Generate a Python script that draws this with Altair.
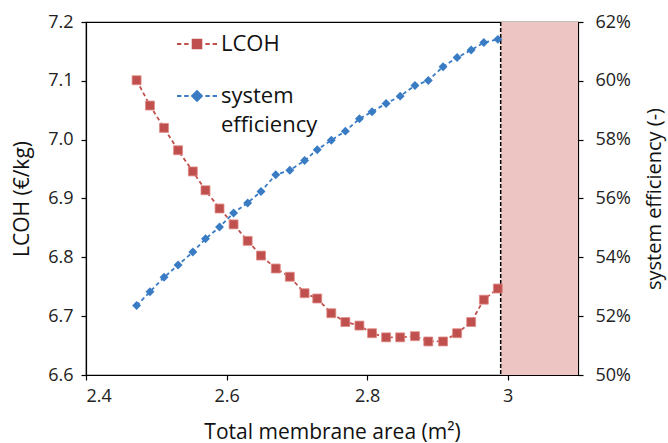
import altair as alt
import pandas as pd

# Total membrane area (m2)
area = [2.472, 2.491, 2.511, 2.531, 2.552, 2.570, 2.590, 2.610, 2.630, 2.649,
        2.670, 2.690, 2.711, 2.729, 2.749, 2.769, 2.789, 2.807, 2.827, 2.847,
        2.868, 2.887, 2.908, 2.928, 2.948, 2.966, 2.986]
# LCOH (EUR/kg)
lcoh = [7.101, 7.058, 7.020, 6.982, 6.946, 6.914, 6.883, 6.856, 6.828, 6.803,
        6.781, 6.767, 6.739, 6.730, 6.705, 6.690, 6.684, 6.671, 6.664, 6.664,
        6.666, 6.657, 6.657, 6.671, 6.690, 6.728, 6.747]
# system efficiency (%)
eff_pct = [52.36, 52.83, 53.32, 53.74, 54.18, 54.63, 55.03, 55.51, 55.85, 56.24,
           56.81, 56.96, 57.29, 57.66, 57.98, 58.29, 58.71, 58.95, 59.23, 59.48,
           59.84, 60.01, 60.48, 60.79, 61.05, 61.30, 61.41]
series = ["LCOH", "system efficiency"]
limit_start = [2.99]
limit_end = [3.1]

RED = "#C0504D"
BLUE = "#3A7CC4"
FONT = "Open Sans"

df = pd.DataFrame({"area": area, "LCOH": lcoh,
                   "system efficiency": [v / 100 for v in eff_pct]})
zone = pd.DataFrame({"x": limit_start, "x2": limit_end})

x_enc = alt.X("area:Q", scale=alt.Scale(domain=[2.4, 3.1], nice=False, zero=False),
              axis=alt.Axis(values=[2.4, 2.6, 2.8, 3.0], format="~g",
                            title="Total membrane area (m²)", grid=False,
                            labelPadding=7, titlePadding=16, titleFontSize=21))

y_left_scale = alt.Scale(domain=[6.6, 7.2], nice=False, zero=False)
y_left_axis = alt.Axis(values=[6.6, 6.7, 6.8, 6.9, 7.0, 7.1, 7.2], format=".1f",
                       title="LCOH (€/kg)", grid=False, labelPadding=8, titlePadding=15,
                       titleFontSize=21)

shade = alt.Chart(zone).mark_rect(color="#EDC5C3", opacity=1).encode(
    x="x:Q", x2="x2:Q")
limit = alt.Chart(zone).mark_rule(color="black", strokeDash=[4, 2], strokeWidth=1.5).encode(
    x="x:Q")

base = alt.Chart(df)

lcoh_line = base.mark_line(color=RED, strokeDash=[4, 3], strokeWidth=1.8).encode(
    x=x_enc, y=alt.Y("LCOH:Q", scale=y_left_scale, axis=y_left_axis))
lcoh_pts = base.mark_point(shape="square", filled=True, color=RED, size=80, opacity=1,
                           stroke="#E08A86", strokeWidth=0.8).encode(
    x="area:Q", y="LCOH:Q")

sq = "M-1,0H-0.78M-0.64,0H-0.42M-0.22,-0.22H0.22V0.22H-0.22ZM0.42,0H0.64M0.78,0H1"
dm = "M-1,0H-0.78M-0.64,0H-0.42M-0.25,0L0,-0.25L0.25,0L0,0.25ZM0.42,0H0.64M0.78,0H1"

legend_layer = base.transform_fold(series, as_=["series", "v"]).mark_point(
    opacity=0, filled=True, strokeWidth=1.8).encode(
    x="area:Q", y="LCOH:Q",
    fill=alt.Fill("series:N", scale=alt.Scale(domain=series, range=[RED, BLUE]),
                  legend=alt.Legend(title=None)),
    stroke=alt.Stroke("series:N", scale=alt.Scale(domain=series, range=[RED, BLUE]),
                      legend=alt.Legend(title=None)),
    shape=alt.Shape("series:N", scale=alt.Scale(domain=series, range=[sq, dm]),
                    legend=alt.Legend(
                        title=None, orient="none", legendX=90, legendY=1,
                        symbolSize=1600, symbolOpacity=1, symbolStrokeWidth=1.8,
                        labelFontSize=22, labelFont=FONT, labelColor="#111",
                        labelOffset=3, rowPadding=20,
                        labelLimit=300,
                        labelExpr="datum.label == 'system efficiency' ? ['system', 'efficiency'] : datum.label")),
)

left = alt.layer(shade, limit, lcoh_line, lcoh_pts, legend_layer)

eff_line = base.mark_line(color=BLUE, strokeDash=[4, 3], strokeWidth=1.8).encode(
    x="area:Q",
    y=alt.Y("system efficiency:Q",
            scale=alt.Scale(domain=[0.50, 0.62], nice=False, zero=False),
            axis=alt.Axis(orient="right", values=[0.50, 0.52, 0.54, 0.56, 0.58, 0.60, 0.62],
                          format=".0%", title="system efficiency (-)", grid=False,
                          titleAngle=270, labelPadding=12, titlePadding=34,
                          titleFontSize=20)))
eff_pts = base.mark_point(shape="diamond", filled=True, color=BLUE, size=80, opacity=1).encode(
    x="area:Q", y="system efficiency:Q")
right = alt.layer(eff_line, eff_pts)

chart = alt.layer(left, right).resolve_scale(
    y="independent", fill="shared", stroke="shared", shape="shared"
).properties(
    width=492, height=353,
    background="white",
    autosize=alt.AutoSizeParams(type="none"),
    padding={"left": 86, "top": 22, "right": 90, "bottom": 68},
).configure(
    style={"guide-label": {"lineHeight": 29}},
    view=alt.ViewConfig(stroke="black", strokeWidth=1.2),
    axis=alt.AxisConfig(
        labelFont=FONT, titleFont=FONT, labelFontSize=18,
        labelColor="#222", titleColor="#111", titleFontWeight="normal",
        domainColor="black", tickColor="black", domainWidth=1.2, tickWidth=1.2, tickSize=5),
)

chart.save("out.html", embed_options={"renderer": "svg", "actions": False})
